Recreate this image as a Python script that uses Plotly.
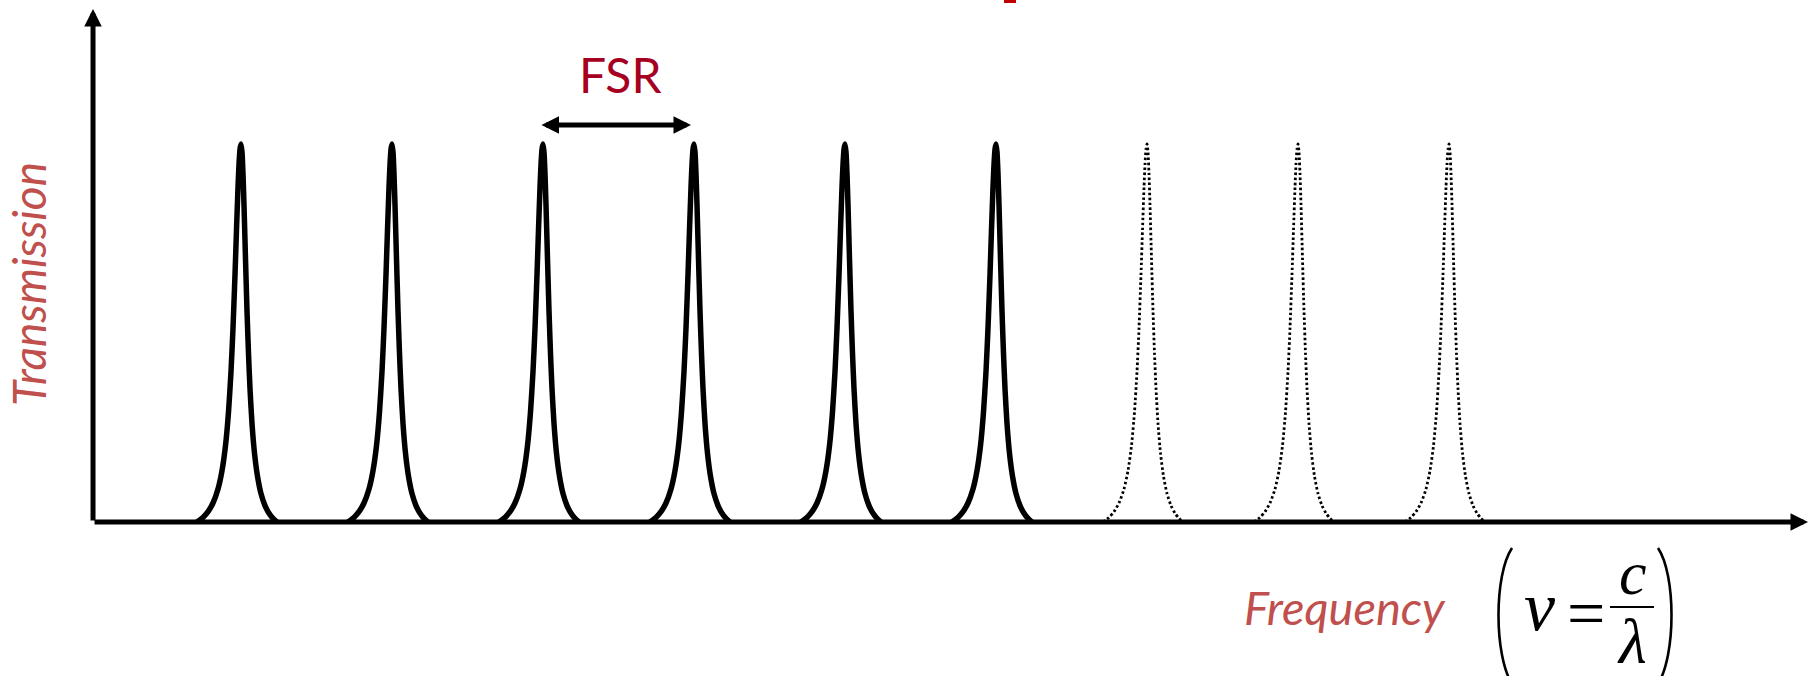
import plotly.graph_objects as go

# ---------------- data ----------------
# transmission peaks, centres in units of the free spectral range (FSR)
peak_centers = [1, 2, 3, 4, 5, 6, 7, 8, 9]
peak_dash = ["solid"] * 6 + ["dot"] * 3
# profile of one peak: offset from centre (FSR units) -> normalised transmission
right_dx = [0.0, 0.0066, 0.0132, 0.0199, 0.0298, 0.0397, 0.0497, 0.0596, 0.0728, 0.0894,
            0.1093, 0.1325, 0.1589, 0.1854, 0.2119, 0.2384]
right_T = [1.0, 0.979, 0.922, 0.839, 0.696, 0.560, 0.446, 0.353, 0.261, 0.182,
           0.121, 0.075, 0.0435, 0.0231, 0.0095, 0.0]
left_dx = [0.0, 0.0066, 0.0132, 0.0199, 0.0298, 0.0397, 0.0530, 0.0662, 0.0828, 0.1026,
           0.1258, 0.1523, 0.1854, 0.2185, 0.2517, 0.2914]
left_T = [1.0, 0.986, 0.946, 0.885, 0.773, 0.655, 0.513, 0.398, 0.291, 0.202,
          0.1356, 0.0872, 0.0502, 0.0272, 0.0121, 0.0]

# ---------------- layout constants ----------------
W, H = 1810, 676
X_RANGE = [-90 / 151, (W - 90) / 151]
Y_RANGE = [-(H - 522) / 378, 522 / 378]

RED_DARK = "#A50021"
RED_SOFT = "#C0504D"


def px(x):
    return x / W


def py(y):
    return 1 - y / H


fig = go.Figure()

for c, dash in zip(peak_centers, peak_dash):
    xs = [c - d for d in reversed(left_dx)] + [c + d for d in right_dx[1:]]
    ys = list(reversed(left_T)) + right_T[1:]
    if dash == "solid":
        line = dict(color="black", width=5.5, shape="spline", smoothing=0.6)
    else:
        line = dict(color="black", width=2.8, dash="2.5px,2.5px", shape="spline", smoothing=0.6)
    fig.add_trace(go.Scatter(x=xs, y=ys, mode="lines", line=line,
                             hoverinfo="skip", showlegend=False))

annotations = []
# axes as arrows
x0_axis = 0.02
annotations.append(dict(x=(1808 - 90) / 151, y=0, ax=x0_axis, ay=0, xref="x", yref="y",
                        axref="x", ayref="y", text="", showarrow=True, arrowhead=2,
                        arrowwidth=5, arrowsize=0.7, arrowcolor="black"))
annotations.append(dict(x=x0_axis, y=(522 - 9) / 378, ax=x0_axis, ay=0, xref="x", yref="y",
                        axref="x", ayref="y", text="", showarrow=True, arrowhead=2,
                        arrowwidth=5, arrowsize=0.7, arrowcolor="black"))
# FSR double arrow between peaks 3 and 4
fsr_y = (522 - 125) / 378
annotations.append(dict(x=peak_centers[3] - 0.02, y=fsr_y, ax=peak_centers[2] - 0.02, ay=fsr_y,
                        xref="x", yref="y", axref="x", ayref="y", text="", showarrow=True,
                        arrowhead=2, startarrowhead=2, arrowside="end+start",
                        arrowwidth=5, arrowsize=0.7, startarrowsize=0.7, arrowcolor="black"))

# labels
annotations.append(dict(x=px(620), y=py(75), xref="paper", yref="paper", text="FSR",
                        showarrow=False, xanchor="center", yanchor="middle",
                        font=dict(family="Lato", size=48, color=RED_DARK)))
annotations.append(dict(x=px(29), y=py(284), xref="paper", yref="paper", text="<i>Transmission</i>",
                        showarrow=False, xanchor="center", yanchor="middle", textangle=-90,
                        font=dict(family="Lato", size=46, color=RED_SOFT)))
annotations.append(dict(x=px(1345), y=py(607), xref="paper", yref="paper", text="<i>Frequency</i>",
                        showarrow=False, xanchor="center", yanchor="middle",
                        font=dict(family="Lato", size=47, color=RED_SOFT)))
# formula (nu = c / lambda)
serif = "Liberation Serif"
annotations.append(dict(x=px(1540), y=py(606), xref="paper", yref="paper", text="<i>ν</i>",
                        showarrow=False, xanchor="center", yanchor="middle",
                        font=dict(family=serif, size=70, color="black")))
annotations.append(dict(x=px(1586), y=py(613), xref="paper", yref="paper", text="=",
                        showarrow=False, xanchor="center", yanchor="middle",
                        font=dict(family=serif, size=68, color="black")))
annotations.append(dict(x=px(1633), y=py(609), xref="paper", yref="paper", text="<i>c</i>",
                        showarrow=False, xanchor="center", yanchor="bottom",
                        font=dict(family=serif, size=62, color="black")))
annotations.append(dict(x=px(1632), y=py(604), xref="paper", yref="paper", text="<i>λ</i>",
                        showarrow=False, xanchor="center", yanchor="top",
                        font=dict(family=serif, size=64, color="black")))

shapes = [
    dict(type="line", xref="paper", yref="paper", x0=px(1610), x1=px(1654), y0=py(607), y1=py(607),
         line=dict(color="black", width=2)),
    dict(type="path", xref="paper", yref="paper",
         path=f"M {px(1512)},{py(548)} C {px(1494)},{py(575)} {px(1494)},{py(655)} {px(1512)},{py(684)}",
         line=dict(color="black", width=2.6)),
    dict(type="path", xref="paper", yref="paper",
         path=f"M {px(1658)},{py(548)} C {px(1676)},{py(575)} {px(1676)},{py(655)} {px(1658)},{py(684)}",
         line=dict(color="black", width=2.6)),
    # stray red mark at the top edge of the original slide
    dict(type="rect", xref="paper", yref="paper", x0=px(1004), x1=px(1016), y0=py(3), y1=py(0),
         fillcolor="#C00000", line=dict(width=0)),
]

fig.update_layout(
    width=W, height=H, margin=dict(l=0, r=0, t=0, b=0),
    paper_bgcolor="white", plot_bgcolor="white",
    xaxis=dict(range=X_RANGE, visible=False, fixedrange=True),
    yaxis=dict(range=Y_RANGE, visible=False, fixedrange=True),
    annotations=annotations, shapes=shapes, showlegend=False,
)

fig.write_html("out.html", config={"displayModeBar": False},
               post_script="document.body.style.margin='0';document.body.style.overflow='hidden';")
